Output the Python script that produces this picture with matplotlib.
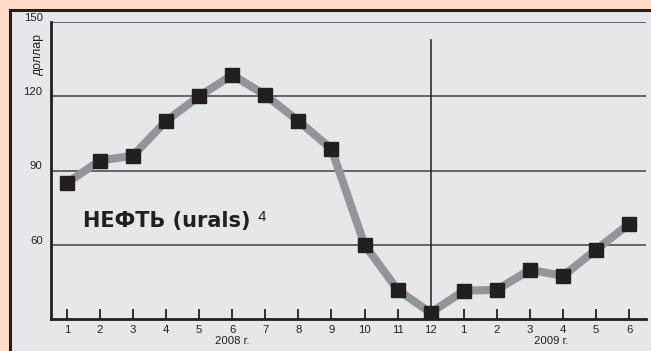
import matplotlib
matplotlib.use("Agg")
import matplotlib.pyplot as plt
from matplotlib.patches import Rectangle
from matplotlib.lines import Line2D

plt.rcParams['font.family'] = ['Liberation Sans', 'DejaVu Sans']

# Data
months = ["1", "2", "3", "4", "5", "6", "7", "8", "9", "10", "11", "12",
          "1", "2", "3", "4", "5", "6"]
prices = [85, 94, 96, 110, 120, 128.6, 120.5, 110, 98.7, 60, 41.8, 32.5,
          41.4, 41.8, 49.9, 47.4, 58, 68.4]
y_ticks = [60, 90, 120, 150]
year_labels = ["2008 г.", "2009 г."]
year_pos = [5, 14.65]
divider_index = 11

W, H = 651, 351
fig = plt.figure(figsize=(W / 100, H / 100), dpi=100)
fig.patch.set_facecolor('#FEDCC7')

# grey panel with dark border (left/top)
fig.patches.append(Rectangle((9 / W, 0), 1, (H - 10) / H, transform=fig.transFigure,
                             facecolor='#E6E7E9', edgecolor='none', zorder=0))
fig.lines.append(Line2D([9.5 / W, 9.5 / W], [0, (H - 10) / H], transform=fig.transFigure,
                        color='#231F20', lw=2.2, solid_capstyle='projecting', zorder=1))
fig.lines.append(Line2D([9.5 / W, 1], [(H - 10) / H, (H - 10) / H], transform=fig.transFigure,
                        color='#231F20', lw=2.2, solid_capstyle='projecting', zorder=1))

ax = fig.add_axes([51 / W, (H - 319) / H, 595 / W, 297 / H])
ax.set_zorder(5)
ax.set_facecolor('none')
x = list(range(len(months)))
ax.set_xlim(-0.48, 17.51)
ax.set_ylim(30, 150)

for s in ['top', 'right']:
    ax.spines[s].set_visible(False)
for s in ['left', 'bottom']:
    ax.spines[s].set_color('#231F20')
    ax.spines[s].set_linewidth(2.0)

for v in y_ticks:
    ax.axhline(v, color='#5A5B5D', lw=1.3, zorder=1)

ax.set_yticks([])
for v in y_ticks:
    ax.text(-0.014, v + 0.5, str(v), transform=ax.get_yaxis_transform(),
            ha='right', va='baseline', fontsize=8.2, color='#231F20')
ax.text(-0.022, 0.892, 'доллар', transform=ax.transAxes, rotation=90,
        ha='center', va='center', fontsize=8.8, color='#231F20')

ax.set_xticks(x)
ax.set_xticklabels(months)
ax.tick_params(axis='x', direction='in', length=7, width=1.3, color='#231F20',
               labelsize=8.2, pad=4, labelcolor='#231F20')

for lbl, p in zip(year_labels, year_pos):
    ax.text(p, -0.075, lbl, transform=ax.get_xaxis_transform(), ha='center',
            va='center', fontsize=8.2, color='#231F20')

ax.plot([divider_index, divider_index], [30, 142.7], color='#231F20', lw=1.1, zorder=2)

ax.plot(x, prices, color='#939598', lw=5.8, zorder=3, solid_joinstyle='miter')
ax.plot(x, prices, linestyle='none', marker='s', markersize=10.6,
        color='#231F20', zorder=4)

ax.text(0.5, 67.2, 'НЕФТЬ (urals)', fontsize=15, fontweight='bold',
        family=['DejaVu Sans'], ha='left', va='baseline', color='#231F20', zorder=5)
ax.text(5.78, 69.4, '4', fontsize=11, ha='left', va='baseline',
        color='#231F20', zorder=5)

fig.savefig('out.png', dpi=100, facecolor=fig.get_facecolor())
